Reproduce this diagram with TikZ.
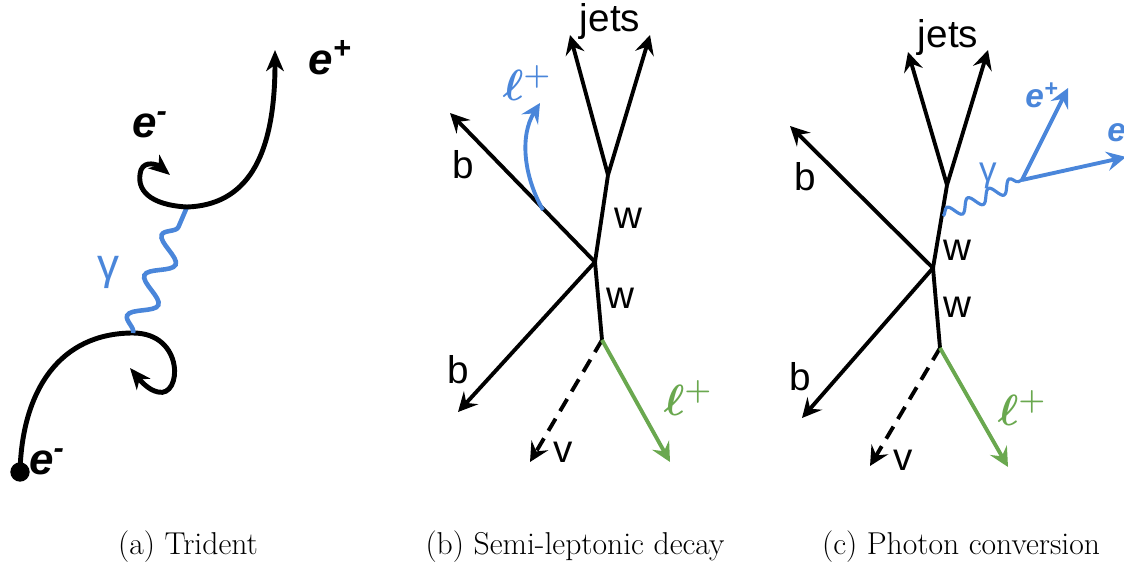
\documentclass[tikz,border=0pt]{standalone}
\usepackage{fontspec}
\setsansfont{Liberation Sans}
\usetikzlibrary{arrows.meta,decorations.pathmorphing}
\definecolor{photonblue}{HTML}{4A86DA}
\definecolor{leptongreen}{HTML}{6AA84F}

\begin{document}
\begin{tikzpicture}[x=0.02cm, y=-0.02cm,
  lbl/.style={font=\sffamily\fontsize{22}{24}\selectfont, inner sep=0pt},
  elbl/.style={font=\sffamily\bfseries\itshape\fontsize{25}{27}\selectfont, inner sep=0pt},
  ell/.style={font=\fontsize{26}{28}\selectfont\boldmath, inner sep=0pt},
  caption/.style={font=\fontsize{18}{22}\selectfont, inner sep=0pt},
  wline/.style={line width=2.2pt},
  track/.style={wline, -{Stealth[length=11pt,width=11pt,inset=4pt]}},
  nuline/.style={track, dash pattern=on 8pt off 5pt},
  fat/.style={line width=2.8pt, -{Stealth[length=12pt,width=10pt,inset=3.5pt]}},
  photon/.style={line width=2.6pt, photonblue, decorate,
                 decoration={snake, segment length=25pt, amplitude=7pt}},
  smallphoton/.style={line width=1.8pt, photonblue, decorate,
                 decoration={snake, segment length=13pt, amplitude=3.6pt}}
]
\useasboundingbox (0,0) rectangle (1124,564);

% (a) trident
\node[circle, fill=black, minimum size=11pt, inner sep=0pt] (aDot) at (20,472) {};
\coordinate (aV1) at (133,333);
\coordinate (aV2) at (187,207);
\coordinate (aLoop) at (130,368);
\coordinate (aEm) at (170,175);
\coordinate (aEp) at (275,50);
\draw[fat] (aDot.center) .. controls (22,390) and (60,333) .. (aV1)
  .. controls (185,333) and (182,398) .. (158,392)
  .. controls (148,390) and (140,380) .. (aLoop);
\draw[photon] (aV1) -- (aV2);
\draw[fat] (aV2) .. controls (245,205) and (275,160) .. (aEp);
\draw[fat] (aV2) .. controls (150,205) and (135,190) .. (141,170)
  .. controls (145,160) and (158,165) .. (aEm);
\node[elbl] (aLblDot) at (47,462) {e\textsuperscript{-}};
\node[elbl] (aLblEm) at (150,125) {e\textsuperscript{-}};
\node[elbl] (aLblEp) at (330,58) {e\textsuperscript{+}};
\node[lbl, text=photonblue, font=\sffamily\fontsize{25}{27}\selectfont] (aLblG) at (108,272) {γ};

% (b) semi-leptonic decay
\coordinate (bTop) at (608,175);
\coordinate (bMid) at (595,262);
\coordinate (bLow) at (602,340);
\coordinate (bJ1) at (570,35);
\coordinate (bJ2) at (650,35);
\coordinate (bB1) at (450,113);
\coordinate (bB2) at (458,412);
\coordinate (bNu) at (530,462);
\coordinate (bLep) at (670,462);
\coordinate (bL0) at (543,210);
\coordinate (bL1) at (540,103);
\draw[wline] (bLow) -- (bMid) -- (bTop);
\draw[track] (bTop) -- (bJ1);
\draw[track] (bTop) -- (bJ2);
\draw[track] (bMid) -- (bB1);
\draw[track] (bMid) -- (bB2);
\draw[nuline] (bLow) -- (bNu);
\draw[track, leptongreen] (bLow) -- (bLep);
\draw[track, photonblue] (bL0) .. controls (523,175) and (520,135) .. (bL1);
\node[lbl] (bLblJets) at (610,22) {jets};
\node[lbl] (bLblB1) at (463,165) {b};
\node[lbl] (bLblB2) at (458,370) {b};
\node[lbl] (bLblW1) at (628,218) {w};
\node[lbl] (bLblW2) at (620,298) {w};
\node[lbl] (bLblNu) at (563,452) {v};
\node[ell, text=photonblue] (bLblL1) at (527,83) {$\ell^{+}$};
\node[ell, text=leptongreen] (bLblL2) at (688,398) {$\ell^{+}$};

% (c) photon conversion
\coordinate (cTop) at (947,185);
\coordinate (cMid) at (933,268);
\coordinate (cLow) at (940,348);
\coordinate (cJ1) at (908,52);
\coordinate (cJ2) at (988,50);
\coordinate (cB1) at (790,126);
\coordinate (cB2) at (802,418);
\coordinate (cNu) at (870,466);
\coordinate (cLep) at (1008,467);
\coordinate (cG0) at (943,216);
\coordinate (cG1) at (1022,180);
\coordinate (cEp) at (1068,88);
\coordinate (cEm) at (1126,157);
\draw[wline] (cLow) -- (cMid) -- (cTop);
\draw[track] (cTop) -- (cJ1);
\draw[track] (cTop) -- (cJ2);
\draw[track] (cMid) -- (cB1);
\draw[track] (cMid) -- (cB2);
\draw[nuline] (cLow) -- (cNu);
\draw[track, leptongreen] (cLow) -- (cLep);
\draw[smallphoton] (cG0) -- (cG1);
\draw[track, photonblue] (cG1) -- (cEp);
\draw[track, photonblue] (cG1) -- (cEm);
\node[lbl] (cLblJets) at (948,38) {jets};
\node[lbl] (cLblB1) at (805,177) {b};
\node[lbl] (cLblB2) at (800,377) {b};
\node[lbl] (cLblW1) at (957,250) {w};
\node[lbl] (cLblW2) at (957,307) {w};
\node[lbl] (cLblNu) at (903,460) {v};
\node[lbl, text=photonblue, font=\sffamily\fontsize{20}{22}\selectfont] (cLblG) at (988,176) {γ};
\node[elbl, text=photonblue, font=\sffamily\bfseries\itshape\fontsize{19}{21}\selectfont] (cLblEp) at (1042,95) {e\textsuperscript{+}};
\node[elbl, text=photonblue, font=\sffamily\bfseries\itshape\fontsize{19}{21}\selectfont] (cLblEm) at (1121,132) {e\textsuperscript{-}};
\node[ell, text=leptongreen] (cLblL) at (1022,408) {$\ell^{+}$};

% captions
\node[caption] (capA) at (188,547) {(a) Trident};
\node[caption] (capB) at (575,547) {(b) Semi-leptonic decay};
\node[caption] (capC) at (961,547) {(c) Photon conversion};
\end{tikzpicture}
\end{document}
